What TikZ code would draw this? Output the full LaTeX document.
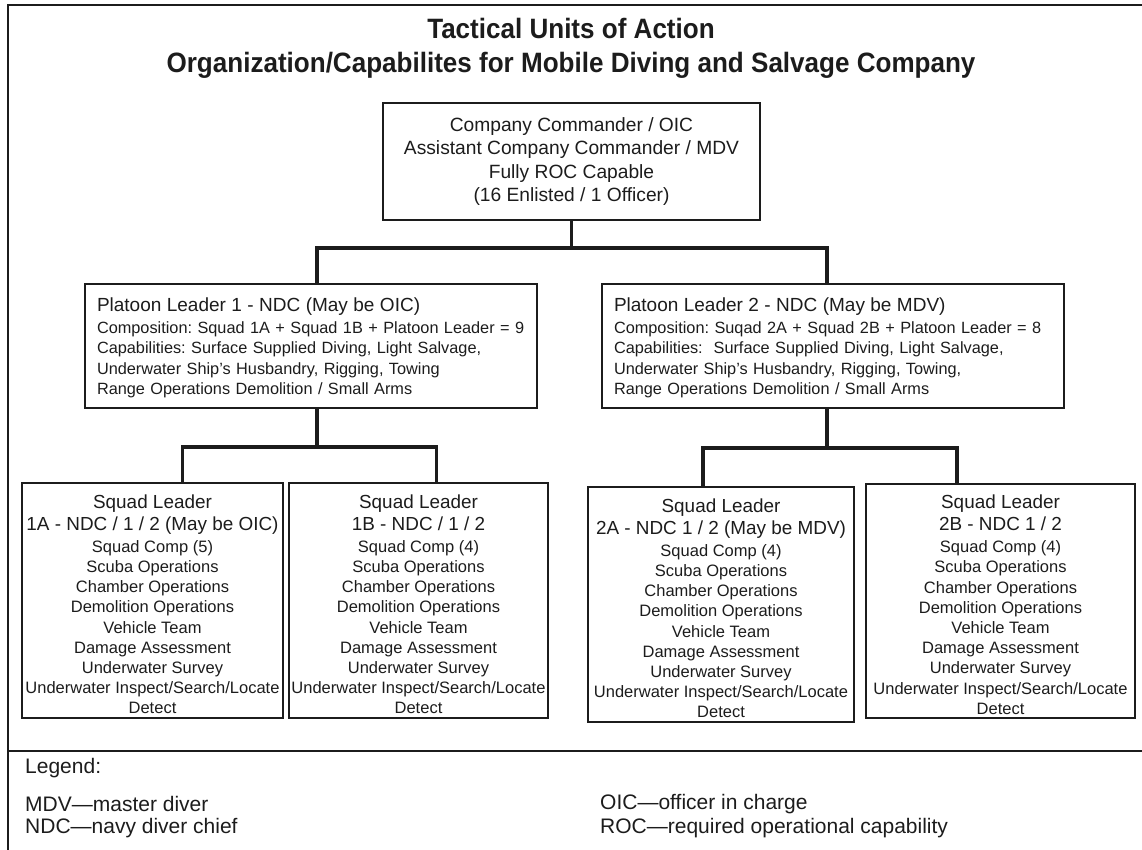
\documentclass[tikz,border=0pt]{standalone}
\usepackage{fontspec}
\setmainfont{Liberation Sans}
\newfontfamily\headfont[FakeStretch=0.93]{Liberation Sans Bold}
\newfontfamily\legfont{Liberation Sans}
\usetikzlibrary{calc}
\definecolor{ink}{HTML}{1C1C1C}
\newcommand\bigline{\fontsize{18.9}{22}\selectfont}
\newcommand\headline{\fontsize{19}{22}\selectfont}
\newcommand\smallline{\fontsize{16.5}{20.2}\selectfont}
\newcommand\platoonline{\fontsize{16.3}{20.2}\selectfont}
% squad box body: lowered slightly inside its frame
\newcommand\squadtext[2]{\raisebox{-6.5pt}[\height][\depth]{\begin{tabular}{@{}c@{}}%
  {\bigline Squad Leader}\\[1.8pt]{\bigline #1}\\[1.8pt]Squad Comp (#2)\\Scuba Operations\\
  Chamber Operations\\Demolition Operations\\Vehicle Team\\Damage Assessment\\
  Underwater Survey\\Underwater Inspect/Search/Locate\\Detect\end{tabular}}}
% platoon box body: leader line, then composition and capabilities
\newcommand\platoontext[5]{\raisebox{-3pt}[\height][\depth]{\begin{tabular}{@{}l@{}}%
  {\headline #1}\\[1.8pt]#2\\#3\\#4\\#5\end{tabular}}}

\begin{document}
\frenchspacing
\begin{tikzpicture}[x=1pt,y=-1pt,
  every node/.style={text=ink},
  orgbox/.style={draw=ink, line width=2.2pt, inner sep=0pt},
  platoon/.style={orgbox, minimum height=124, inner xsep=12pt, align=left, font=\platoonline},
  squad/.style={orgbox, minimum height=235, font=\smallline},
  link/.style={draw=ink, line width=3.3pt, line join=miter},
  rule/.style={draw=ink, line width=2.6pt},
  legend/.style={anchor=west, inner sep=0pt, font=\legfont\fontsize{21}{23}\selectfont}]
\useasboundingbox (0,0) rectangle (1142,850);

% outer frame and legend divider
\draw[rule] (8,850) -- (8,5) -- (1142,5);
\draw[rule] (8,751) -- (1142,751);

% heading
\node[font=\headfont\fontsize{28}{34}\selectfont, align=center] (title) at (571,48)
  {Tactical Units of Action\\Organization/Capabilites for Mobile Diving and Salvage Company};

% company level
\node[orgbox, minimum width=377, minimum height=117, align=center,
      font=\fontsize{19.2}{23.3}\selectfont] (cmd) at (571.5,161.5)
  {Company Commander / OIC\\Assistant Company Commander / MDV\\Fully ROC Capable\\(16 Enlisted / 1 Officer)};

% platoons
\node[platoon, text width=428] (p1) at (311,346)
  {\platoontext{Platoon Leader 1 - NDC (May be OIC)}
   {Composition: Squad 1A + Squad 1B + Platoon Leader = 9}
   {Capabilities: Surface Supplied Diving, Light Salvage,}
   {Underwater Ship’s Husbandry, Rigging, Towing}
   {Range Operations Demolition / Small Arms}};
\node[platoon, text width=438] (p2) at (833,346)
  {\platoontext{Platoon Leader 2 - NDC (May be MDV)}
   {Composition: Suqad 2A + Squad 2B + Platoon Leader = 8}
   {Capabilities:\ \ Surface Supplied Diving, Light Salvage,}
   {Underwater Ship’s Husbandry, Rigging, Towing,}
   {Range Operations Demolition / Small Arms}};

% squads
\node[squad, minimum width=261] (s1a) at (152.5,600.5) {\squadtext{1A - NDC / 1 / 2 (May be OIC)}{5}};
\node[squad, minimum width=259] (s1b) at (418.5,600.5) {\squadtext{1B - NDC / 1 / 2}{4}};
\node[squad, minimum width=266] (s2a) at (721,604.5)   {\squadtext{2A - NDC 1 / 2 (May be MDV)}{4}};
\node[squad, minimum width=269, minimum height=234] (s2b) at (1000.5,601) {\squadtext{2B - NDC 1 / 2}{4}};

% connectors
\draw[link] (cmd.south) -- ++(0,27) coordinate (jtop);
\draw[link] ([xshift=6]p1.north) |- (jtop) -| ([xshift=-6]p2.north);
\draw[link] ([xshift=6]p1.south) -- ++(0,38) coordinate (j1);
\draw[link] ([xshift=30]s1a.north) |- (j1) -| ([xshift=18]s1b.north);
\draw[link] ([xshift=-6]p2.south) -- ++(0,39) coordinate (j2);
\draw[link] ([xshift=-18]s2a.north) |- (j2) -| ([xshift=-43.5]s2b.north);

% legend
\node[legend] (leg) at (25,768) {Legend:};
\node[legend] (mdv) at (25,804) {MDV—master diver};
\node[legend] (ndc) at (25,828) {NDC—navy diver chief};
\node[legend] (oic) at (600,804) {OIC—officer in charge};
\node[legend] (roc) at (600,828) {ROC—required operational capability};
\end{tikzpicture}
\end{document}
